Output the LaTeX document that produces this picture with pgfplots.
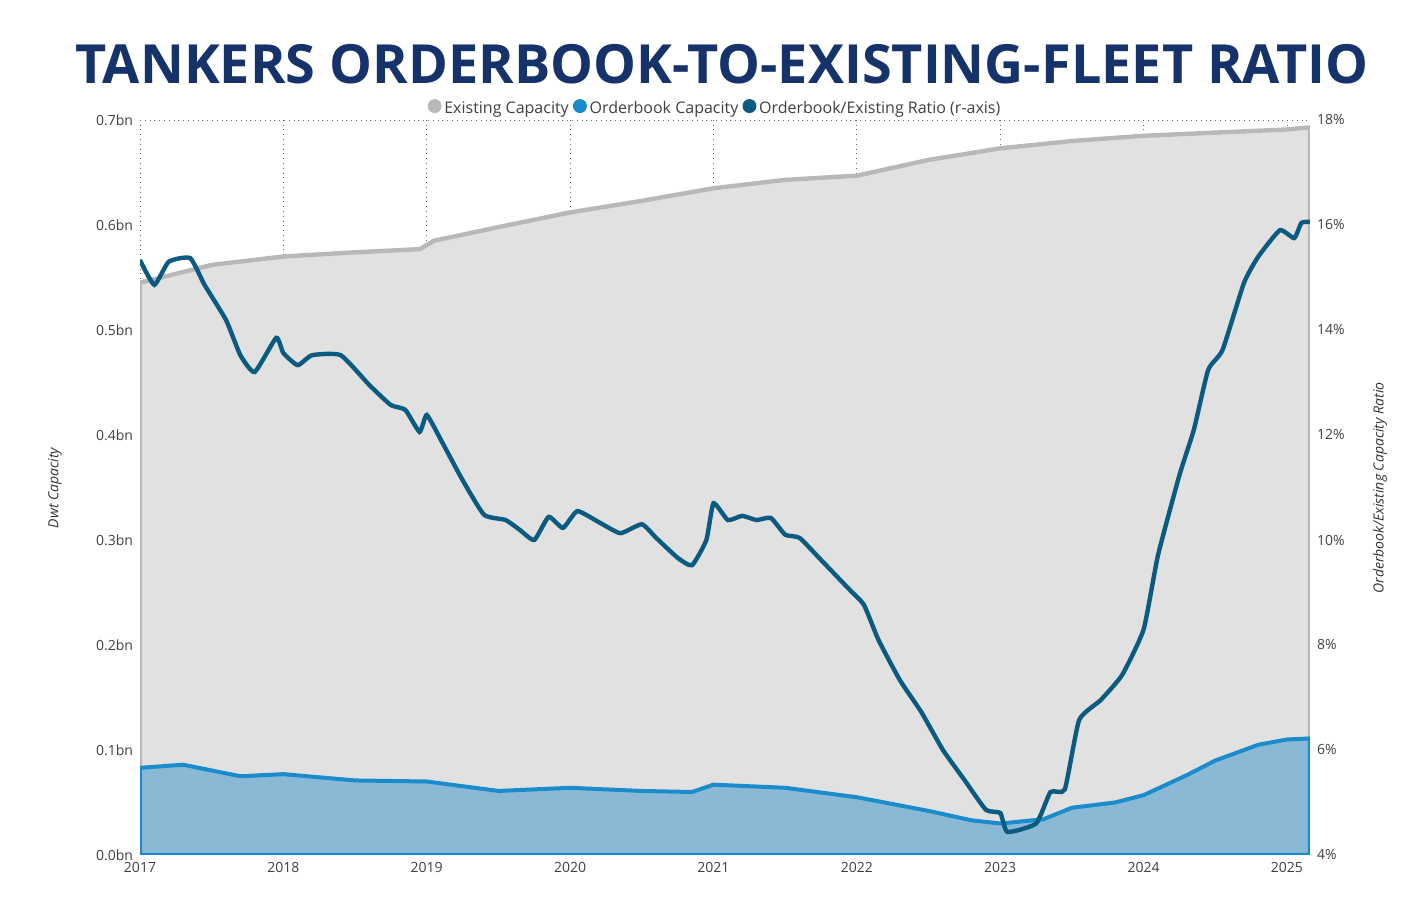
\documentclass[border=0pt]{standalone}
\usepackage{pgfplots}
\pgfplotsset{compat=1.18}
\usepackage{fontspec}
\setmainfont{Open Sans}
\definecolor{exist}{HTML}{B8B8B8}
\definecolor{existfill}{HTML}{E1E1E1}
\definecolor{ob}{HTML}{1A8CCC}
\definecolor{obfill}{HTML}{8AB9D6}
\definecolor{ratio}{HTML}{0B5A80}
\definecolor{titlec}{HTML}{15326A}
\begin{document}
\begin{tikzpicture}
\path (0pt,0pt) rectangle (713pt,-462pt);
\node[font=\bfseries\fontsize{27}{30}\selectfont,text=titlec] at (361pt,-32pt) {TANKERS ORDERBOOK-TO-EXISTING-FLEET RATIO};
\node[font=\fontsize{8}{9}\selectfont,text=black!75] at (357pt,-54pt) {\tikz\fill[exist] (0,0) circle (3.5pt);\,Existing Capacity\ \tikz\fill[ob] (0,0) circle (3.5pt);\,Orderbook Capacity\ \tikz\fill[ratio] (0,0) circle (3.5pt);\,Orderbook/Existing Ratio (r-axis)};
\node[rotate=90,font=\itshape\fontsize{7}{8}\selectfont,text=black!80] at (27.5pt,-244pt) {Dwt Capacity};
\node[rotate=90,font=\itshape\fontsize{7}{8}\selectfont,text=black!80] at (690pt,-244pt) {Orderbook/Existing Capacity Ratio};
\begin{axis}[at={(70pt,-427.5pt)},anchor=south west,scale only axis,width=585pt,height=367.5pt,
  xmin=2017,xmax=2025.16,ymin=0,ymax=0.7,
  xtick={2017,...,2025},xticklabel style={/pgf/number format/1000 sep={}},
  ytick={0,0.1,...,0.7},yticklabels={0.0bn,0.1bn,0.2bn,0.3bn,0.4bn,0.5bn,0.6bn,0.7bn},
  axis line style={draw=none},tick style={draw=none},
  xmajorgrids,grid style={black!60,dotted},
  extra y ticks={0.7},extra y tick labels={},extra y tick style={grid=major},
  ticklabel style={font=\fontsize{7}{8}\selectfont,text=black!75},
  /pgf/number format/assume math mode=true]
\addplot[draw=exist,line width=2.2pt,fill=existfill] coordinates {(2017,0.545)(2017.5,0.562)(2018,0.57)(2018.5,0.574)(2018.95,0.577)(2019.05,0.585)(2019.5,0.598)(2020,0.612)(2020.5,0.623)(2021,0.635)(2021.5,0.643)(2022,0.647)(2022.5,0.662)(2023,0.673)(2023.5,0.68)(2024,0.685)(2024.5,0.688)(2025,0.691)(2025.16,0.693)} \closedcycle;
\addplot[draw=ob,line width=2pt,fill=obfill] coordinates {(2017,0.083)(2017.3,0.086)(2017.7,0.075)(2018,0.077)(2018.5,0.071)(2019,0.07)(2019.5,0.061)(2020,0.064)(2020.5,0.061)(2020.85,0.06)(2021,0.067)(2021.5,0.064)(2022,0.055)(2022.5,0.042)(2022.8,0.033)(2023,0.03)(2023.3,0.034)(2023.5,0.045)(2023.8,0.05)(2024,0.057)(2024.3,0.076)(2024.5,0.09)(2024.8,0.105)(2025,0.11)(2025.16,0.111)} \closedcycle;
\end{axis}
\begin{axis}[at={(70pt,-427.5pt)},anchor=south west,scale only axis,width=585pt,height=367.5pt,
  xmin=2017,xmax=2025.16,ymin=4,ymax=18,axis y line*=right,axis x line=none,
  ytick={4,6,...,18},yticklabel={\pgfmathprintnumber{\tick}\%},
  axis line style={draw=none},tick style={draw=none},
  ticklabel style={font=\fontsize{7}{8}\selectfont,text=black!75},
  /pgf/number format/assume math mode=true]
\addplot[ratio,line width=2.2pt,smooth,tension=0.3] coordinates {(2017.0,15.33)(2017.1,14.86)(2017.2,15.3)(2017.35,15.37)(2017.45,14.86)(2017.6,14.19)(2017.7,13.52)(2017.8,13.2)(2017.95,13.85)(2018.0,13.56)(2018.1,13.33)(2018.2,13.52)(2018.4,13.52)(2018.6,12.95)(2018.75,12.57)(2018.85,12.48)(2018.95,12.06)(2019.0,12.38)(2019.1,11.9)(2019.25,11.14)(2019.4,10.48)(2019.55,10.38)(2019.65,10.19)(2019.75,10.0)(2019.85,10.44)(2019.95,10.23)(2020.05,10.55)(2020.2,10.34)(2020.35,10.13)(2020.5,10.3)(2020.6,10.04)(2020.75,9.66)(2020.85,9.52)(2020.95,10.0)(2021.0,10.7)(2021.1,10.38)(2021.2,10.46)(2021.3,10.38)(2021.4,10.42)(2021.5,10.1)(2021.6,10.04)(2021.75,9.62)(2021.95,9.05)(2022.05,8.76)(2022.15,8.1)(2022.3,7.33)(2022.45,6.72)(2022.6,6.0)(2022.75,5.43)(2022.9,4.86)(2023.0,4.8)(2023.05,4.44)(2023.25,4.6)(2023.35,5.2)(2023.45,5.25)(2023.55,6.57)(2023.7,6.95)(2023.85,7.43)(2024.0,8.3)(2024.1,9.71)(2024.25,11.24)(2024.35,12.1)(2024.45,13.24)(2024.55,13.62)(2024.7,14.9)(2024.8,15.4)(2024.95,15.9)(2025.05,15.75)(2025.1,16.04)(2025.16,16.06)};
\end{axis}
\end{tikzpicture}
\end{document}
